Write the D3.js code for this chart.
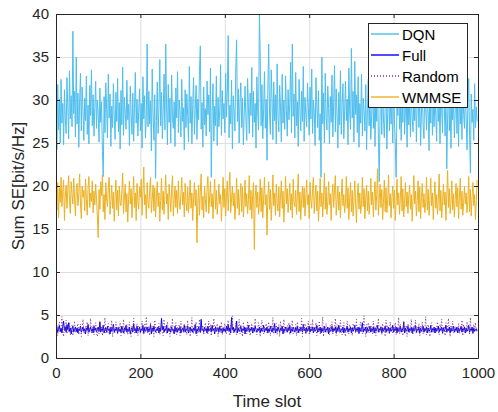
<!DOCTYPE html>
<html>
<head>
<meta charset="utf-8">
<script src="https://cdn.jsdelivr.net/npm/d3@7"></script>
<style>
  body { margin: 0; background: #fff; }
  svg { display: block; font-family: "Liberation Sans", Arial, sans-serif; }
</style>
</head>
<body>
<div class="chart"></div>
<script>
// x ticks / y ticks
var xTicks = [0, 200, 400, 600, 800, 1000];
var yTicks = [0, 5, 10, 15, 20, 25, 30, 35, 40];
var seriesNames = ["DQN", "Full", "Random", "WMMSE"];
var slotStep = 2; // one value every 2 time slots

var dqn = [
34.5,24.2,31.8,26.5,30.1,25.0,32.4,27.3,29.6,24.8,31.2,28.0,26.1,32.6,29.2,25.5,33.4,27.8,30.5,26.9,38.0,28.4,31.0,25.7,35.0,
27.2,30.8,24.5,29.9,33.1,26.4,31.5,28.7,25.3,30.2,27.6,32.8,26.0,29.4,24.9,31.7,28.2,33.5,27.0,30.6,25.8,29.1,32.2,26.7,30.0,
28.5,25.1,31.4,27.4,29.8,24.0,21.1,30.4,26.2,32.0,28.9,25.6,33.0,27.9,30.7,24.6,29.3,26.8,31.9,28.1,25.4,30.9,27.5,32.5,26.3,
29.7,24.3,31.1,27.1,33.8,25.9,30.3,28.6,26.6,32.3,27.7,29.5,24.7,31.6,28.3,26.0,30.8,25.2,29.0,33.2,27.3,30.1,25.8,28.8,31.3,
26.4,29.6,24.4,32.7,27.8,30.5,25.6,28.0,36.5,26.9,31.0,27.2,29.9,24.1,33.6,28.4,25.3,30.6,20.9,27.6,32.1,26.1,29.2,34.7,27.0,
30.9,25.5,28.7,33.0,26.5,36.5,29.4,24.8,31.8,27.4,30.2,25.0,32.9,28.1,26.7,29.8,24.6,31.4,27.9,33.3,26.2,30.0,28.5,25.7,32.4,
27.5,29.1,24.2,31.2,26.8,30.7,28.2,25.1,33.9,27.3,30.4,24.9,29.5,32.6,26.0,28.9,31.7,25.4,30.1,27.7,33.4,36.3,26.6,29.7,24.5,
31.5,27.1,29.0,25.8,32.2,28.3,30.6,26.3,33.7,21.0,28.6,31.9,25.2,29.3,27.0,32.8,24.7,30.3,26.9,28.8,34.1,25.9,31.1,27.8,29.6,
26.2,33.1,28.0,30.9,37.5,25.6,29.4,27.2,32.3,24.3,30.5,28.7,26.4,33.6,37.0,27.5,31.3,25.0,29.8,32.0,26.8,30.2,24.8,28.4,31.6,
27.9,25.3,32.5,29.1,26.1,30.8,28.2,33.8,25.7,31.0,27.4,29.6,24.4,32.7,28.6,26.5,40.0,35.0,27.0,31.8,25.5,29.0,33.3,26.7,30.1,
23.0,31.4,36.5,28.5,26.0,33.5,29.9,25.4,32.1,27.6,30.6,24.9,34.2,28.0,26.3,31.7,29.2,25.1,33.0,27.3,30.0,26.6,32.8,28.8,25.8,
31.2,27.7,29.5,34.4,26.2,36.5,28.1,30.7,25.6,33.2,27.0,29.8,24.6,32.4,28.9,26.4,31.0,27.5,33.9,25.2,30.3,28.3,26.9,32.0,29.1,
25.9,31.5,27.8,33.6,26.1,30.0,28.6,24.7,32.6,29.3,26.8,31.1,25.3,28.4,21.0,35.0,27.2,30.8,25.0,33.1,28.0,26.5,31.6,29.0,24.9,
30.4,27.4,32.9,25.7,29.7,34.0,26.3,31.3,28.2,24.4,30.9,27.1,33.4,26.0,29.4,31.9,25.5,28.7,32.2,27.6,30.1,24.8,33.7,28.5,26.6,
36.0,27.9,31.0,25.1,34.5,28.3,30.6,26.2,32.7,24.5,29.6,27.3,33.0,25.8,30.2,28.8,26.4,31.8,24.2,29.0,32.4,27.0,30.5,25.4,28.1,
32.1,26.7,29.8,24.6,31.4,27.5,33.2,25.2,20.5,28.9,30.8,26.0,32.5,27.8,25.6,29.4,31.2,24.3,28.5,33.5,26.4,30.3,27.2,29.1,25.0,
31.6,27.7,24.8,21.0,30.0,28.2,32.8,26.6,29.5,25.3,31.0,27.4,33.8,26.0,28.7,30.7,24.5,32.3,27.1,29.2,25.7,31.5,28.0,26.3,30.4,
27.6,32.0,25.1,29.7,33.4,26.8,30.9,24.7,28.4,31.3,27.0,25.5,32.6,29.0,26.5,30.2,28.6,24.1,31.8,27.3,33.1,25.9,29.3,26.9,30.6,
28.1,25.2,32.2,27.5,30.0,24.9,31.2,28.8,26.2,33.6,29.4,25.8,30.5,22.0,27.9,32.4,26.4,29.1,24.4,31.0,27.7,30.3,25.6,28.6,32.9,
26.1,29.9,24.6,31.7,27.2,30.1,25.4,33.0,28.3,26.7,31.4,27.8,24.2,29.6,32.5,25.9,21.5,30.7,27.4,28.9,25.3,31.9,26.8,29.2,27.5
];

var wmmse = [
21.5,17.2,20.4,16.3,19.8,18.1,21.0,17.6,19.3,20.7,16.0,18.8,20.1,17.4,19.6,21.2,18.3,16.8,20.5,19.0,17.9,20.9,18.5,16.5,19.7,
20.3,17.7,19.1,21.4,18.0,16.2,20.0,18.7,19.5,17.1,20.8,18.4,16.6,19.9,21.1,17.5,19.2,18.2,20.6,16.9,19.4,17.8,20.2,18.6,16.4,
14.0,19.6,17.3,20.5,18.9,21.3,17.0,19.0,16.1,20.4,18.5,17.6,19.8,21.0,16.7,18.3,20.1,17.4,19.3,15.9,18.8,20.7,17.2,19.5,16.5,
20.0,18.1,17.7,19.4,21.5,16.8,18.6,20.2,17.0,19.1,15.8,18.4,20.6,17.9,19.7,16.3,18.9,21.1,17.5,19.2,16.0,20.3,18.2,17.3,19.9,
18.7,20.8,16.6,19.3,22.2,17.8,19.0,16.2,20.4,18.0,17.4,19.6,21.0,16.9,18.5,20.1,17.1,19.8,16.4,18.8,20.5,17.6,19.2,15.9,18.3,
20.9,17.2,19.4,16.7,18.9,21.3,17.9,19.1,16.1,20.2,18.6,17.0,19.7,21.2,16.5,18.4,20.0,17.5,19.5,16.8,20.6,18.1,17.3,19.0,21.0,
17.8,19.3,16.4,20.3,18.2,17.1,19.9,16.9,18.7,20.7,17.4,19.2,16.0,18.5,20.4,17.7,19.6,13.4,18.0,20.1,16.6,19.4,21.4,17.2,18.8,
16.3,20.0,18.4,17.0,19.8,21.1,16.8,18.6,20.5,17.6,19.1,16.2,18.9,20.8,17.3,19.5,16.7,18.1,20.2,17.9,19.0,15.9,18.3,21.0,17.5,
19.7,16.5,18.8,20.6,17.1,19.4,21.6,16.9,18.5,20.0,17.7,19.2,16.1,18.2,20.9,17.4,19.6,16.6,18.7,20.3,17.0,19.9,16.4,18.0,20.7,
17.6,19.1,16.8,18.4,21.2,17.2,19.5,16.2,18.9,20.4,12.6,18.6,20.1,17.5,19.3,16.7,18.1,20.8,17.0,19.8,16.3,18.5,21.0,17.8,19.0,
14.3,18.7,20.5,17.3,19.6,16.0,18.3,21.3,17.7,19.2,16.6,20.2,18.0,17.1,19.9,16.4,18.8,20.6,17.4,19.4,15.8,18.2,21.1,17.9,19.7,
16.9,18.5,20.3,17.2,19.1,16.3,20.8,18.1,17.6,19.5,16.7,18.9,21.4,17.0,19.3,16.1,18.4,20.0,17.5,19.8,16.5,18.6,20.7,17.8,19.0,
16.2,20.4,18.3,17.4,19.7,21.0,16.8,18.8,20.1,17.1,19.4,15.9,18.0,20.9,17.6,19.2,16.4,18.6,21.5,17.3,19.9,16.7,18.2,20.5,17.8,
19.1,16.0,18.9,20.2,17.5,19.6,21.2,16.6,18.4,20.0,17.2,19.3,16.3,18.7,20.8,17.7,19.0,16.9,18.1,21.1,17.4,19.8,16.1,18.5,20.4,
17.0,19.5,16.5,18.3,20.6,17.9,15.7,18.8,20.3,17.3,19.2,16.8,18.0,21.0,17.6,19.7,16.2,18.6,20.1,17.1,19.4,16.7,18.2,20.9,17.8,
19.3,16.4,18.9,20.5,17.2,19.0,22.0,16.6,18.5,20.2,17.5,19.6,16.1,18.1,20.7,17.0,19.8,16.9,18.4,21.3,17.7,19.1,16.3,18.7,20.0,
17.4,19.5,16.0,18.2,20.8,17.8,19.2,16.7,18.6,21.1,17.1,19.7,16.4,18.0,20.4,17.6,19.3,16.8,18.9,20.1,17.3,19.0,15.9,18.5,21.2,
17.9,19.4,16.5,18.3,20.6,17.0,19.9,16.2,18.7,20.3,17.5,19.1,16.9,18.1,21.0,17.2,19.6,16.6,18.4,20.9,17.7,19.2,16.1,18.8,20.5,
17.4,19.0,16.7,18.6,21.4,17.1,19.5,16.3,18.2,20.2,17.8,19.3,16.0,18.9,21.8,17.5,19.7,16.8,18.0,20.6,17.2,19.1,16.4,18.5,20.3,
17.6,19.8,16.2,18.7,20.9,17.3,19.4,16.6,18.1,20.0,17.9,19.2,16.9,18.4,21.1,17.0,19.6,16.5,18.8,20.4,17.7,19.0,16.1,18.3,20.7
];

var full = [
3.2,3.6,3.0,3.4,3.8,3.1,3.5,2.9,3.7,4.3,3.2,3.6,3.0,3.9,3.3,4.1,3.1,3.5,2.8,3.4,3.7,3.0,3.3,3.6,3.1,
3.5,2.9,3.4,3.2,3.7,3.0,3.3,3.6,3.1,3.4,2.8,3.5,3.2,3.9,3.0,3.3,3.6,3.1,3.4,2.9,3.7,3.2,3.5,3.0,3.3,
3.6,3.1,4.2,3.0,3.4,3.2,3.8,2.9,3.3,3.5,3.0,3.7,3.2,3.4,2.8,3.6,3.1,3.3,3.9,3.0,3.4,3.2,3.6,2.9,3.5,
3.1,3.4,3.0,3.7,3.3,2.9,3.5,3.2,3.8,3.0,3.4,3.1,3.6,2.8,3.3,3.5,3.0,4.0,3.2,3.4,2.9,3.7,3.1,3.3,3.6,
3.0,3.4,3.2,3.8,2.9,3.5,3.1,3.3,3.6,3.0,3.4,3.2,3.9,2.8,3.5,3.1,3.7,3.3,3.0,3.4,3.2,3.6,2.9,3.5,3.1,
4.6,3.3,3.7,3.0,3.4,3.2,3.8,2.9,3.5,3.1,3.4,3.0,3.6,3.2,3.3,2.8,3.7,3.1,3.5,3.0,3.4,3.2,3.6,2.9,3.3,
3.5,3.1,3.8,3.0,3.4,3.2,3.7,2.9,3.3,3.6,3.1,3.4,3.0,3.5,3.2,3.9,2.8,3.4,3.1,3.6,3.3,3.0,4.5,3.2,3.4,
3.0,3.6,3.2,3.4,2.9,3.7,3.1,3.3,3.5,3.0,3.8,3.2,3.4,2.8,3.6,3.1,3.3,3.5,3.0,3.7,3.2,3.4,2.9,3.5,3.1,
3.4,3.0,3.7,3.2,3.9,3.1,3.5,2.9,4.7,3.3,3.6,3.0,3.4,3.2,4.3,2.9,3.5,3.1,3.3,3.7,3.0,3.4,3.2,3.6,2.8,
3.5,3.1,3.3,3.8,3.0,3.4,3.2,3.6,2.9,3.5,3.1,3.7,3.3,3.0,3.4,3.2,3.6,2.9,3.5,3.1,3.3,3.8,3.0,3.4,3.2,
3.6,2.9,3.4,3.1,3.7,3.3,3.0,3.5,3.2,4.0,2.9,3.4,3.1,3.6,3.3,3.0,3.5,3.2,3.7,2.8,3.4,3.1,3.6,3.3,3.0,
3.5,3.2,3.8,2.9,3.4,3.1,3.6,3.3,3.0,3.5,3.2,3.7,2.9,3.4,3.1,3.6,3.3,3.0,3.9,3.2,3.4,2.9,3.5,3.1,3.3,
3.7,3.0,3.4,3.2,3.6,2.9,3.5,3.1,3.3,3.8,3.0,3.4,3.2,3.6,2.9,3.5,3.1,3.3,3.7,3.0,3.4,3.2,3.6,2.8,3.5,
3.1,3.3,3.7,3.0,3.4,3.2,3.6,2.9,3.5,3.1,3.8,3.3,3.0,3.4,3.2,3.6,2.9,3.5,3.1,3.3,3.7,3.0,3.4,3.2,3.6,
2.9,3.5,3.1,3.3,3.8,3.0,3.4,3.2,3.6,2.9,3.5,3.1,3.3,4.1,3.0,3.4,3.2,3.6,2.9,3.5,3.1,3.3,3.7,3.0,3.4,
3.2,3.6,2.9,3.5,3.1,3.3,3.8,3.0,3.4,3.2,3.6,2.9,3.5,3.1,3.3,3.7,3.0,3.4,3.2,3.6,2.9,3.5,3.1,3.3,3.8,
3.0,3.4,3.2,3.6,2.9,3.5,3.1,3.3,3.7,3.0,3.4,3.2,4.2,2.9,3.5,3.1,3.3,3.7,3.0,3.4,3.2,3.6,2.9,3.5,3.1,
3.3,3.8,3.0,3.4,3.2,3.6,2.9,3.5,3.1,3.3,3.7,3.0,3.4,3.2,3.6,2.9,3.5,3.1,3.3,3.8,3.0,3.4,3.2,3.6,2.9,
3.5,3.1,3.3,3.7,3.0,3.4,3.2,3.6,2.9,3.5,3.1,3.3,3.8,3.0,3.4,3.2,3.6,2.9,3.5,3.1,3.3,3.7,3.0,3.4,3.2,
3.6,2.9,3.5,3.1,3.3,3.7,3.0,3.4,3.2,3.6,2.9,3.5,3.1,3.3,3.8,3.0,3.4,3.2,3.6,2.9,3.5,3.1,3.3,3.4,3.2
];

var random = [
3.0,3.9,2.6,3.5,4.2,2.9,3.3,4.8,3.1,2.5,3.7,3.2,4.4,2.8,3.6,3.0,4.1,2.7,3.4,3.8,2.6,3.5,4.3,3.1,2.9,
3.6,4.0,2.7,3.3,3.9,2.5,3.4,4.5,3.0,2.8,3.7,3.2,4.2,2.6,3.5,3.1,4.6,2.9,3.3,3.8,2.7,3.6,4.1,3.0,2.5,
3.4,2.8,4.3,3.1,3.7,2.6,3.9,3.2,4.7,2.9,3.5,3.0,4.0,2.7,3.6,3.3,4.4,2.5,3.8,3.1,2.9,4.2,3.4,2.8,3.7,
3.2,4.1,2.6,3.5,3.0,4.5,2.8,3.6,3.3,3.9,2.7,3.4,4.2,3.0,2.5,3.8,3.1,4.6,2.9,3.5,3.2,4.0,2.6,3.7,3.3,
2.8,3.6,4.3,3.1,2.7,3.9,3.4,4.8,2.9,3.2,3.7,2.6,4.1,3.3,3.0,3.8,2.5,4.4,3.5,2.9,3.6,3.1,4.0,2.7,3.4,
3.9,3.0,2.6,4.5,3.3,3.7,2.8,4.2,3.1,3.5,2.5,3.8,3.2,4.6,2.9,3.4,3.0,4.1,2.7,3.6,3.3,3.9,2.6,4.3,3.1,
3.5,2.9,4.0,3.2,3.8,2.7,4.4,3.0,3.6,2.5,3.3,4.7,3.1,2.8,3.9,3.4,4.2,2.6,3.7,3.0,4.5,2.9,3.5,3.2,3.8,
2.7,3.4,4.1,3.0,3.6,2.8,4.3,3.3,3.9,2.6,3.5,3.1,4.6,2.9,3.7,3.2,4.0,2.5,3.4,3.8,3.0,4.2,2.7,3.6,3.3,
4.0,3.1,2.8,3.7,4.4,3.2,2.6,3.9,3.4,4.9,2.9,3.5,3.0,4.1,2.7,3.6,3.3,4.5,2.8,3.8,3.1,2.5,4.2,3.4,3.0,
3.6,2.8,4.3,3.2,3.9,2.6,3.5,4.0,3.1,2.9,3.7,4.6,3.0,2.7,3.4,4.1,3.3,2.5,3.8,4.4,3.1,2.8,3.6,3.2,4.0,
2.9,3.5,4.2,3.0,2.6,3.8,3.3,4.7,2.8,3.6,3.1,4.0,2.7,3.4,3.9,2.5,4.3,3.2,3.7,3.0,4.5,2.9,3.5,3.3,3.8,
3.1,4.1,2.7,3.6,3.3,4.4,2.8,3.5,3.0,3.9,2.6,4.2,3.4,2.9,3.7,3.2,4.6,2.5,3.8,3.1,4.0,2.8,3.6,3.3,4.3,
2.7,3.4,3.9,3.1,4.5,2.9,3.6,3.2,4.1,2.6,3.8,3.0,4.3,2.8,3.5,3.3,4.8,2.5,3.7,3.1,4.0,2.9,3.4,3.6,2.7,
3.8,3.0,4.2,2.8,3.5,3.3,4.6,2.6,3.9,3.1,3.6,2.9,4.4,3.2,2.7,3.7,4.1,3.0,2.5,3.4,4.3,3.1,2.8,3.9,3.3,
3.5,2.6,4.0,3.2,3.7,2.9,4.5,3.0,3.4,2.7,3.8,4.2,3.1,2.8,3.6,4.9,3.3,2.5,3.9,3.0,4.1,2.9,3.5,3.2,3.7,
2.8,4.3,3.1,3.6,2.6,3.9,3.4,4.6,2.9,3.3,3.7,2.7,4.0,3.2,3.5,2.5,4.4,3.0,3.8,3.1,2.8,4.2,3.4,3.6,2.9,
3.7,3.0,4.1,2.7,3.5,3.2,4.7,2.8,3.9,3.1,3.4,2.6,4.3,3.3,3.0,3.8,2.5,4.0,3.6,2.9,3.4,4.5,3.1,2.7,3.8,
3.2,4.4,2.9,3.6,3.0,4.0,2.6,3.7,3.3,4.2,2.8,3.5,3.1,4.8,2.7,3.4,3.9,3.0,2.5,3.8,4.1,3.2,2.9,3.6,3.3,
2.9,3.6,4.2,3.1,2.7,3.9,3.4,4.5,2.8,3.3,3.7,2.6,4.1,3.0,3.5,4.6,3.2,2.5,3.8,3.1,4.3,2.9,3.4,3.7,3.0,
3.6,3.1,4.0,2.8,3.5,3.3,4.4,2.6,3.9,3.0,3.4,2.9,4.2,3.2,3.7,2.7,4.7,3.1,3.5,2.8,3.9,3.3,4.1,3.0,3.4
];

function draw() {
  var width = 498, height = 412;
  var padL = 56, padR = 478, padT = 14, padB = 358;
  var axisColor = "#262626";

  var svg = d3.select(".chart").append("svg")
    .attr("width", width).attr("height", height);

  svg.append("rect").attr("width", width).attr("height", height).attr("fill", "#fff");

  var x = d3.scaleLinear().domain([0, 1000]).range([padL, padR]);
  var y = d3.scaleLinear().domain([0, 40]).range([padB, padT]);

  // grid
  var grid = svg.append("g").attr("stroke", "#dfdfdf").attr("stroke-width", 1);
  grid.selectAll(".gx").data(xTicks).enter().append("line")
    .attr("x1", d => x(d) + 0.5).attr("x2", d => x(d) + 0.5)
    .attr("y1", padT).attr("y2", padB);
  grid.selectAll(".gy").data(yTicks).enter().append("line")
    .attr("y1", d => y(d) + 0.5).attr("y2", d => y(d) + 0.5)
    .attr("x1", padL).attr("x2", padR);

  svg.append("clipPath").attr("id", "plot")
    .append("rect").attr("x", padL).attr("y", padT).attr("width", padR - padL).attr("height", padB - padT);

  function toPoints(arr) {
    return arr.map(function(v, i) { return [i * slotStep, v]; });
  }

  var line = d3.line().x(d => x(d[0])).y(d => y(d[1]));

  var series = [
    {name: seriesNames[0], values: dqn, color: "#4DBEEE", dash: null},
    {name: seriesNames[1], values: full, color: "#0000ff", dash: null},
    {name: seriesNames[2], values: random, color: "#7E2F8E", dash: "1,2"},
    {name: seriesNames[3], values: wmmse, color: "#EDB120", dash: null}
  ];

  var plot = svg.append("g").attr("clip-path", "url(#plot)");
  series.forEach(function(s) {
    plot.append("path")
      .datum(toPoints(s.values))
      .attr("d", line)
      .attr("fill", "none")
      .attr("stroke", s.color)
      .attr("stroke-width", 1)
      .attr("stroke-dasharray", s.dash);
  });

  // axes (ticks point inward, like matlab)
  function styleAxis(g) {
    g.select(".domain").attr("stroke", axisColor);
    g.selectAll(".tick line").attr("stroke", axisColor);
    g.selectAll(".tick text").attr("fill", axisColor).attr("font-size", 15)
      .attr("font-family", "Liberation Sans, Arial, sans-serif");
  }

  svg.append("g").attr("transform", "translate(0," + padB + ")")
    .call(d3.axisBottom(x).tickValues(xTicks).tickFormat(d3.format("d")).tickSize(-4).tickPadding(9).tickSizeOuter(0))
    .call(styleAxis);
  svg.append("g").attr("transform", "translate(" + padL + ",0)")
    .call(d3.axisLeft(y).tickValues(yTicks).tickFormat(d3.format("d")).tickSize(-4).tickPadding(7).tickSizeOuter(0))
    .call(styleAxis);
  svg.append("g").attr("transform", "translate(0," + padT + ")")
    .call(d3.axisTop(x).tickValues(xTicks).tickSize(-4).tickFormat("").tickSizeOuter(0))
    .call(styleAxis);
  svg.append("g").attr("transform", "translate(" + padR + ",0)")
    .call(d3.axisRight(y).tickValues(yTicks).tickSize(-4).tickFormat("").tickSizeOuter(0))
    .call(styleAxis);

  // axis titles
  svg.append("text")
    .attr("x", (padL + padR) / 2).attr("y", 407)
    .attr("text-anchor", "middle").attr("font-size", 17).attr("fill", axisColor)
    .text("Time slot");
  svg.append("text")
    .attr("transform", "translate(24," + ((padT + padB) / 2) + ") rotate(-90)")
    .attr("text-anchor", "middle").attr("font-size", 17).attr("fill", axisColor)
    .text("Sum SE[bit/s/Hz]");

  // legend
  var lg = svg.append("g").attr("transform", "translate(368,23)");
  lg.append("rect").attr("x", 0.5).attr("y", 0.5).attr("width", 99).attr("height", 84)
    .attr("fill", "#fff").attr("stroke", axisColor).attr("stroke-width", 1);
  series.forEach(function(s, i) {
    var ly = 11 + i * 21;
    var thick = (i === 0 || i === 3);
    lg.append("line").attr("x1", 3).attr("x2", 31).attr("y1", ly).attr("y2", ly)
      .attr("stroke", s.color)
      .attr("stroke-width", thick ? 2 : 1.4)
      .attr("stroke-opacity", thick ? 0.7 : 1)
      .attr("stroke-dasharray", s.dash);
    lg.append("text").attr("x", 34).attr("y", ly + 6)
      .attr("font-size", 15).attr("fill", "#000").text(s.name);
  });
}

draw();
</script>
</body>
</html>
